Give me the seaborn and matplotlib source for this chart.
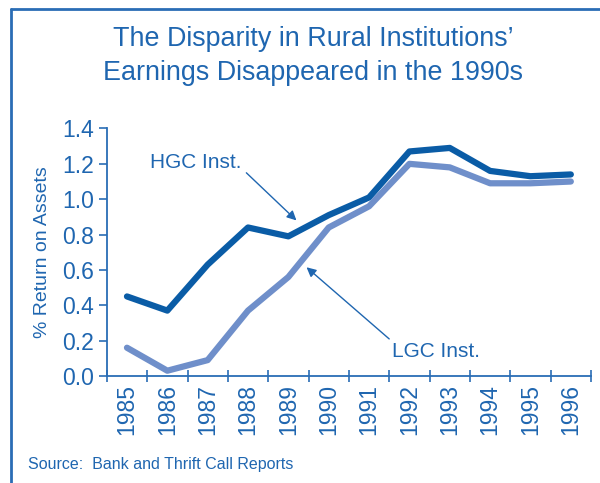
import matplotlib
matplotlib.use("Agg")
import matplotlib.pyplot as plt
import seaborn as sns
import pandas as pd
from matplotlib.lines import Line2D

years = [1985, 1986, 1987, 1988, 1989, 1990, 1991, 1992, 1993, 1994, 1995, 1996]
hgc = [0.45, 0.37, 0.63, 0.84, 0.79, 0.91, 1.01, 1.27, 1.29, 1.16, 1.13, 1.14]
lgc = [0.16, 0.03, 0.09, 0.37, 0.56, 0.84, 0.96, 1.20, 1.18, 1.09, 1.09, 1.10]
series_names = ["HGC Inst.", "LGC Inst."]
yticks = [0.0, 0.2, 0.4, 0.6, 0.8, 1.0, 1.2, 1.4]

title = "The Disparity in Rural Institutions\u2019\nEarnings Disappeared in the 1990s"
ylabel = "% Return on Assets"
source = "Source:  Bank and Thrift Call Reports"

sns.set_style("white")
plt.rcParams['font.family'] = ['Liberation Sans', 'DejaVu Sans']

text_c = "#1f66b0"
axis_c = "#2a6db5"
hgc_c = "#0a5ca6"
lgc_c = "#6f8fca"

df = pd.DataFrame({
    "pos": list(range(len(years))) * 2,
    "value": hgc + lgc,
    "series": [series_names[0]] * len(years) + [series_names[1]] * len(years),
})

fig = plt.figure(figsize=(6.0, 4.83), dpi=100)
ax = fig.add_axes([0.178, 0.2215, 0.807, 0.5125])

sns.lineplot(data=df, x="pos", y="value", hue="series",
             palette={series_names[0]: hgc_c, series_names[1]: lgc_c},
             linewidth=4.5, legend=False, ax=ax, zorder=3)

ax.set_xlim(-0.5, len(years) - 0.5)
ax.set_ylim(0, 1.4)
ax.set_yticks(yticks)
ax.set_yticklabels([f"{v:.1f}" for v in yticks], fontsize=16.5, color=text_c)

ax.set_xticks([i - 0.5 for i in range(len(years) + 1)])
ax.set_xticklabels([])
ax.set_xticks(list(range(len(years))), minor=True)
ax.set_xticklabels([str(y) for y in years], minor=True, rotation=90,
                   fontsize=16.5, color=text_c)
ax.tick_params(axis="x", which="major", bottom=True, direction="inout",
               length=9, color=axis_c, width=1.2)
ax.tick_params(axis="x", which="minor", bottom=True, length=0, pad=6)
ax.tick_params(axis="y", left=True, direction="out", length=6, color=axis_c,
               width=1.2, pad=3)

for s in ["top", "right"]:
    ax.spines[s].set_visible(False)
for s in ["left", "bottom"]:
    ax.spines[s].set_color(axis_c)
    ax.spines[s].set_linewidth(1.3)

ax.set_xlabel("")
ax.set_ylabel(ylabel, fontsize=14, color=text_c, labelpad=8)

ax.annotate(series_names[0], xy=(4.2, 0.88), xytext=(0.56, 1.21),
            fontsize=15, color=text_c, ha="left", va="center",
            arrowprops=dict(arrowstyle="-|>", color=text_c, lw=1.0,
                            shrinkA=2, shrinkB=0, mutation_scale=14,
                            relpos=(1.0, 0.2)),
            zorder=4)
ax.annotate(series_names[1], xy=(4.45, 0.615), xytext=(6.58, 0.14),
            fontsize=15, color=text_c, ha="left", va="center",
            arrowprops=dict(arrowstyle="-|>", color=text_c, lw=1.0,
                            shrinkA=0, shrinkB=0, mutation_scale=14,
                            relpos=(0.0, 1.0)),
            zorder=4)

fig.text(0.522, 0.884, title, ha="center", va="center", fontsize=19.4,
         color=text_c, linespacing=1.42)
fig.text(0.047, 0.038, source, ha="left", va="center", fontsize=11.5,
         color=text_c)

fig.add_artist(Line2D([0.018, 0.018], [0.0, 0.981], transform=fig.transFigure,
                      color=axis_c, lw=2))
fig.add_artist(Line2D([0.018, 1.0], [0.981, 0.981], transform=fig.transFigure,
                      color=axis_c, lw=2))

fig.savefig("out.png", dpi=100)
